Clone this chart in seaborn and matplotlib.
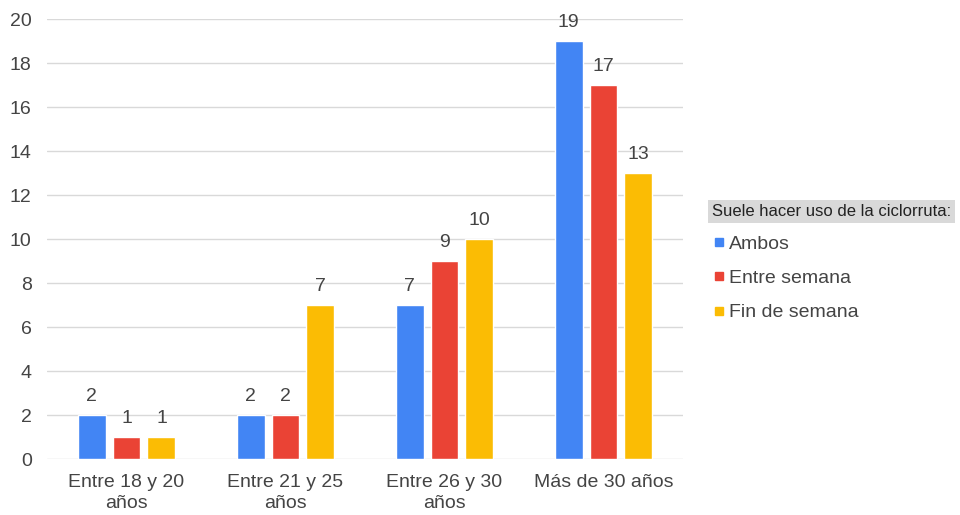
import pandas as pd
import matplotlib.pyplot as plt
import seaborn as sns
from matplotlib.lines import Line2D

grupos = ['Entre 18 y 20\naños', 'Entre 21 y 25\naños', 'Entre 26 y 30\naños', 'Más de 30 años']
series = ['Ambos', 'Entre semana', 'Fin de semana']
ambos = [2, 2, 7, 19]
entre_semana = [1, 2, 9, 17]
fin_semana = [1, 7, 10, 13]
colores = ['#4285F4', '#EA4335', '#FBBC04']

df = pd.DataFrame({
    'grupo': grupos * 3,
    'uso': [s for s in series for _ in grupos],
    'valor': ambos + entre_semana + fin_semana,
})

sns.set_style('white')
plt.rcParams['font.family'] = ['Liberation Sans', 'DejaVu Sans']
gris = '#444444'

fig = plt.figure(figsize=(9.6, 5.15), dpi=100)
ax = fig.add_axes([47 / 960, 1 - 459 / 515, 636 / 960, 440 / 515])

sns.barplot(data=df, x='grupo', y='valor', hue='uso', order=grupos, hue_order=series,
            palette=colores, width=0.66, gap=0.2, saturation=1, ax=ax, legend=False)

for cont in ax.containers:
    ax.bar_label(cont, padding=7, fontsize=14, color=gris)

ax.set_xlim(-0.5, 3.5)
ax.set_ylim(0, 20)
ax.set_yticks(range(0, 21, 2))
ax.grid(axis='y', color='#d9d9d9', lw=1)
ax.set_axisbelow(True)
for s in ax.spines.values():
    s.set_visible(False)
ax.set_xlabel('')
ax.set_ylabel('')
ax.tick_params(axis='both', length=0, labelsize=14, labelcolor=gris)
ax.tick_params(axis='y', pad=11)
ax.tick_params(axis='x', pad=11)
for lbl in ax.get_xticklabels():
    lbl.set_linespacing(1.25)

handles = [Line2D([], [], marker='s', ls='', color=c, markersize=6) for c in colores]
leg = fig.legend(handles, series, loc='upper left', bbox_to_anchor=(712 / 960, 1 - 204 / 515),
                 frameon=False, fontsize=14, title='Suele hacer uso de la ciclorruta:',
                 title_fontsize=12, handletextpad=0.15, handlelength=0.7,
                 labelspacing=0.85, borderaxespad=0, borderpad=0)
leg._legend_box.align = 'left'
leg.get_title().set_color('#222222')
leg.get_title().set_bbox(dict(facecolor='#d9d9d9', edgecolor='none', pad=3))
for t in leg.get_texts():
    t.set_color(gris)

fig.savefig('out.png', dpi=100)
